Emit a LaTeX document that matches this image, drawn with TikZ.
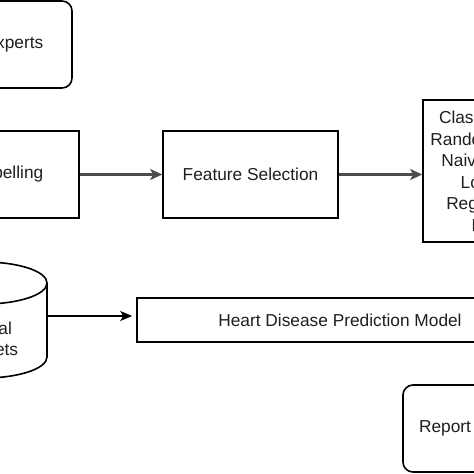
\documentclass[tikz,border=0pt]{standalone}
\usepackage{fontspec}
\setmainfont{Liberation Sans}
\usetikzlibrary{arrows.meta}
\begin{document}
\begin{tikzpicture}[x=1pt,y=1pt,
  lbl/.style={text=black!88, font=\fontsize{17.3}{21.5}\selectfont, align=center},
  procbox/.style={lbl, draw=black, line width=1.6pt, inner sep=0pt},
  roundbox/.style={procbox, rounded corners=10pt},
  flow/.style={-{Stealth[length=12pt,width=11pt,inset=3pt]}, line width=2.3pt, draw=black!70},
  thinflow/.style={-{Stealth[length=12pt,width=10pt,inset=3pt]}, line width=1.4pt, draw=black}]
\useasboundingbox (0,0) rectangle (474,-474);
\fill[white] (0,0) rectangle (474,-474);
\clip (0,0) rectangle (474,-474);
% experts
\node[roundbox, minimum width=116pt, minimum height=87pt] (experts) at (14,-44.5) {Experts};
% labelling
\node[procbox, minimum width=182pt, minimum height=87pt] (label) at (-12,-174.5) {Data Labelling};
% feature selection
\node[procbox, minimum width=175pt, minimum height=87pt] (fs) at (250.5,-174.5) {Feature Selection};
% classifiers
\node[procbox, minimum width=134pt, minimum height=142pt] (cls) at (490,-171) {Classification\\Random Forest\\Naive Bayes\\Logistic\\Regression\\KNN};
% cylinder
\draw[line width=1.6pt, fill=white] (-79,-283) -- (-79,-357) arc[start angle=180, end angle=360, x radius=63, y radius=21] -- (47,-283);
\draw[line width=1.6pt, fill=white] (-16,-283) ellipse[x radius=63, y radius=21];
\node[minimum width=126pt, minimum height=116pt, inner sep=0pt] (cyl) at (-16,-320) {};
\node[lbl] (cyltext) at (-16,-339) {Clinical\\Datasets};
% prediction model
\node[procbox, minimum width=406pt, minimum height=44pt] (hdpm) at (340,-320) {Heart Disease Prediction Model};
% report
\node[roundbox, minimum width=84pt, minimum height=87pt] (report) at (445,-428.5) {Report};
% connectors
\draw[flow] (label.east) -- (fs.west);
\draw[flow] (fs.east) -- (fs.east -| cls.west);
\draw[thinflow, shorten >=4pt] ([yshift=4pt]cyl.east) -- ([yshift=4pt]hdpm.west);
\end{tikzpicture}
\end{document}
